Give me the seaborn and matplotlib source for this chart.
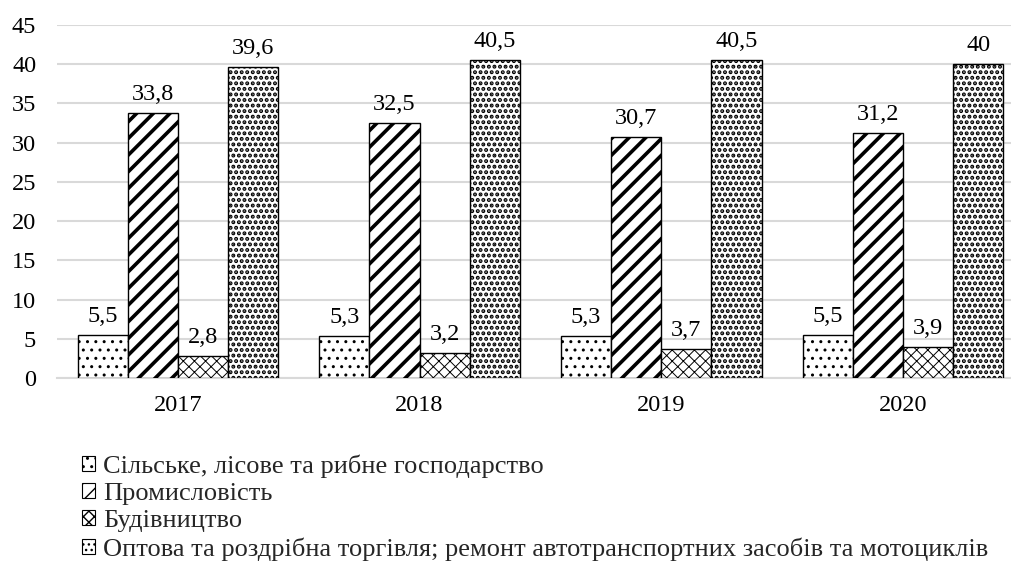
import matplotlib
matplotlib.use("Agg")
import matplotlib.pyplot as plt
import seaborn as sns
import pandas as pd
from matplotlib.patches import Patch

years = ["2017", "2018", "2019", "2020"]
sectors = [
    "Сільське, лісове та рибне господарство",
    "Промисловість",
    "Будівництво",
    "Оптова та роздрібна торгівля; ремонт автотранспортних засобів та мотоциклів",
]
agri = [5.5, 5.3, 5.3, 5.5]
industry = [33.8, 32.5, 30.7, 31.2]
construction = [2.8, 3.2, 3.7, 3.9]
trade = [39.6, 40.5, 40.5, 40]
yticks = [0, 5, 10, 15, 20, 25, 30, 35, 40, 45]

series = [agri, industry, construction, trade]
rows = []
for s, vals in zip(sectors, series):
    for y, v in zip(years, vals):
        rows.append({"year": y, "value": v, "sector": s})
df = pd.DataFrame(rows)

sns.set_theme(style="white")
plt.rcParams["font.family"] = ["Liberation Serif", "DejaVu Serif"]
plt.rcParams["hatch.color"] = "black"
FS = 17.5
LFS = 19

fig = plt.figure(figsize=(10.12, 5.67), dpi=100)
W, H = 1012, 567
left, right_px, top, bottom = 57, 1012, 25, 378
ax = fig.add_axes([left / W, 1 - bottom / H, (right_px - left) / W, (bottom - top) / H])

sns.barplot(data=df, x="year", y="value", hue="sector", hue_order=sectors,
            order=years, palette=["white"] * 4, saturation=1,
            edgecolor="black", linewidth=1.0, width=0.83, legend=False,
            errorbar=None, ax=ax)

hatches = ["..", "//", "xxx", "..."]
hlw = [1.0, 2.6, 0.7, 2.0]
for cont, h, lw, vals in zip(ax.containers, hatches, hlw, series):
    for p in cont:
        p.set_hatch(h)
        try:
            p.set_hatch_linewidth(lw)
        except Exception:
            pass
        p.set_zorder(3)
    labels = [("%g" % v).replace(".", ",") for v in vals]
    ax.bar_label(cont, labels=labels, padding=6, fontsize=FS, color="black")

ax.set_ylim(0, 45)
ax.set_yticks(yticks)
ax.set_xlim(-0.5, -0.5 + (right_px - left) / 241.7)
ax.yaxis.grid(True, color="#d9d9d9", linewidth=1.5, zorder=0)
ax.set_axisbelow(True)
for sp in ["top", "right", "left"]:
    ax.spines[sp].set_visible(False)
ax.spines["bottom"].set_color("#d9d9d9")
ax.spines["bottom"].set_linewidth(1.5)
ax.tick_params(axis="both", length=0, labelsize=FS, colors="black")
ax.tick_params(axis="y", pad=15)
ax.tick_params(axis="x", pad=12)
ax.set_xlabel("")
ax.set_ylabel("")

handles = []
for h, lw in zip(hatches, hlw):
    handles.append(Patch(facecolor="white", edgecolor="black", hatch=h, linewidth=0.8))
leg = fig.legend(handles, sectors, loc="upper left",
                 bbox_to_anchor=(82 / W, 1 - 454 / H), frameon=False,
                 fontsize=LFS, handlelength=0.5, handleheight=0.5,
                 handletextpad=0.3, labelspacing=0.2, borderpad=0,
                 borderaxespad=0)

fig.savefig("out.png", dpi=100)
